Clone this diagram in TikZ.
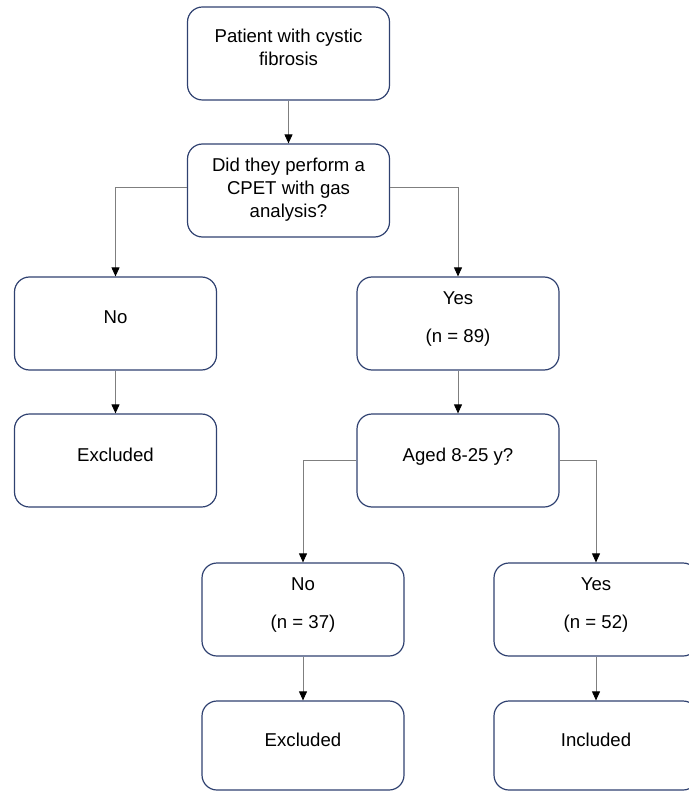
\documentclass[tikz,border=0pt]{standalone}
\usepackage{fontspec}
\setmainfont{Liberation Sans}
\usetikzlibrary{arrows.meta}
\definecolor{boxline}{HTML}{2F4170}
\definecolor{wire}{HTML}{7F7F7F}
\begin{document}
\begin{tikzpicture}[
  x=1pt, y=1pt,
  box/.style={rectangle, rounded corners=15pt, draw=boxline, line width=1.2pt, minimum width=202pt, minimum height=93pt, align=center, text depth=12pt, font=\fontsize{18.6}{23}\selectfont},
  flow/.style={draw=wire, line width=0.9pt, -{Triangle[width=8pt,length=9pt,color=black]}},
  node distance=137pt
]
\useasboundingbox (0,0) rectangle (688,-791);
\node[box] (patient) at (288.5,-53.5) {Patient with cystic\\fibrosis};
\node[box, below of=patient, text depth=5pt] (cpet) {Did they perform a\\CPET with gas\\analysis?};
\node[box, below of=cpet, node distance=133pt, xshift=-173pt] (nocpet) {No};
\node[box, below of=cpet, node distance=133pt, xshift=169.5pt] (yescpet) {Yes\\[15pt](n = 89)};
\node[box, below of=nocpet] (exclcpet) {Excluded};
\node[box, below of=yescpet] (aged) {Aged 8-25 y?};
\node[box, below of=aged, node distance=149pt, xshift=-155pt] (noage) {No\\[15pt](n = 37)};
\node[box, below of=aged, node distance=149pt, xshift=138pt, minimum width=204pt] (yesage) {Yes\\[15pt](n = 52)};
\node[box, below of=noage, node distance=136pt, minimum height=89pt] (exclage) {Excluded};
\node[box, below of=yesage, node distance=136pt, minimum height=89pt, minimum width=204pt] (incl) {Included};

\draw[flow] (patient) -- (cpet);
\draw[flow] ([yshift=3pt]cpet.west) -| (nocpet.north);
\draw[flow] ([yshift=3pt]cpet.east) -| (yescpet.north);
\draw[flow] (nocpet) -- (exclcpet);
\draw[flow] (yescpet) -- (aged);
\draw[flow] (aged.west) -| (noage.north);
\draw[flow] (aged.east) -| (yesage.north);
\draw[flow] (noage) -- (exclage);
\draw[flow] (yesage) -- (incl);
\end{tikzpicture}
\end{document}
